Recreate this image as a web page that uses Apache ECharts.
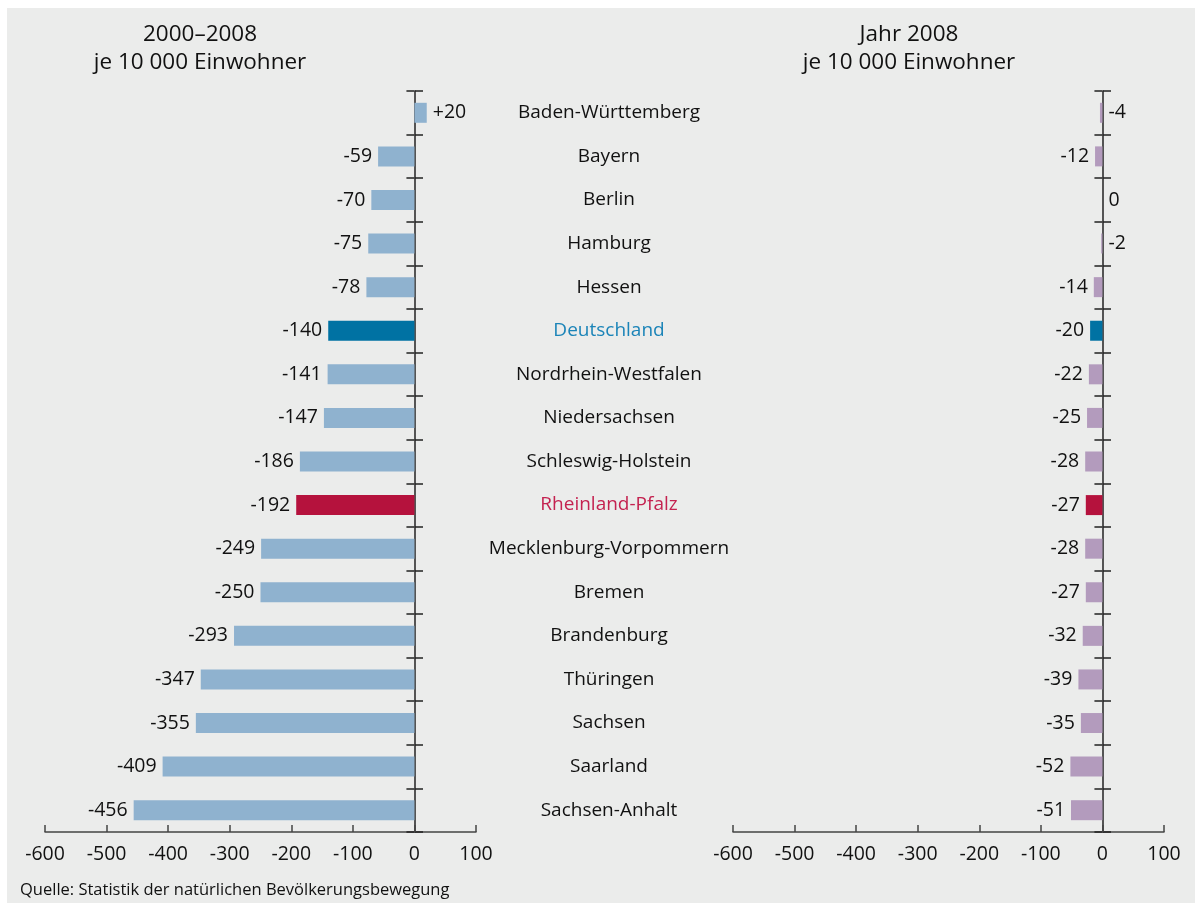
<!DOCTYPE html>
<html>
<head>
    <meta charset="utf-8">
    <title>Geburtenbilanz</title>
    <script src="https://cdn.jsdelivr.net/npm/echarts@6/dist/echarts.min.js"></script>
    <style>
        html, body { margin: 0; padding: 0; background: #fff; }
        #chart { width: 1195px; height: 907px; }
    </style>
</head>
<body>
<div id="chart"></div>
<script>
    // Bundeslaender, von oben nach unten
    var categories = ['Baden-Württemberg', 'Bayern', 'Berlin', 'Hamburg', 'Hessen', 'Deutschland',
        'Nordrhein-Westfalen', 'Niedersachsen', 'Schleswig-Holstein', 'Rheinland-Pfalz',
        'Mecklenburg-Vorpommern', 'Bremen', 'Brandenburg', 'Thüringen', 'Sachsen', 'Saarland', 'Sachsen-Anhalt'];
    // 2000-2008 je 10 000 Einwohner
    var period = [20, -59, -70, -75, -78, -140, -141, -147, -186, -192, -249, -250, -293, -347, -355, -409, -456];
    // Jahr 2008 je 10 000 Einwohner
    var year2008 = [-4, -12, 0, -2, -14, -20, -22, -25, -28, -27, -28, -27, -32, -39, -35, -52, -51];
    var xTicks = [-600, 100, 100]; // min, max, interval

    var font = '"Open Sans", "Noto Sans", sans-serif';
    var special = { 'Deutschland': '#0072a3', 'Rheinland-Pfalz': '#b5123d' };
    var specialText = { 'Deutschland': '#1b84b8', 'Rheinland-Pfalz': '#c42250' };

    function barData(vals, base) {
        return vals.map(function (v, i) {
            var name = categories[i];
            return {
                value: v,
                itemStyle: { color: special[name] || base },
                label: { position: (v >= 0 || Math.abs(v) < 5) ? 'right' : 'left' }
            };
        });
    }

    function xAxis(idx, visible) {
        return {
            type: 'value', gridIndex: idx, show: visible,
            min: xTicks[0], max: xTicks[1], interval: xTicks[2],
            axisLine: { show: true, onZero: false, lineStyle: { color: '#444', width: 1.5 } },
            axisTick: { show: true, inside: true, length: 7, lineStyle: { color: '#444', width: 1.5 } },
            axisLabel: { color: '#111', fontSize: 19.5, fontFamily: font, margin: 12 },
            splitLine: { show: false }
        };
    }

    // main axis at zero, ticks pointing left
    function yAxis(idx) {
        return {
            type: 'category', gridIndex: idx, inverse: true, data: categories,
            axisLine: { show: true, onZero: true, lineStyle: { color: '#222', width: 1.5 } },
            axisTick: { show: true, length: 8, lineStyle: { color: '#222', width: 1.5 } },
            axisLabel: { show: false }
        };
    }

    // helper axis sitting on the zero line, ticks pointing right
    function tickAxis(idx, labels) {
        return {
            type: 'category', gridIndex: idx, inverse: true,
            data: categories.map(function (c) {
                return { value: c, textStyle: { color: specialText[c] || '#111', align: 'center' } };
            }),
            axisLine: { show: false, onZero: false },
            axisTick: { show: true, inside: true, length: 8, lineStyle: { color: '#222', width: 1.5 } },
            axisLabel: labels ? { show: true, inside: true, margin: 194, fontSize: 19, fontFamily: font } : { show: false }
        };
    }

    var labelStyle = {
        show: true, distance: 6, color: '#111', fontSize: 19.5, fontFamily: font,
        formatter: function (p) { return p.value > 0 ? '+' + p.value : String(p.value); }
    };

    var titleFont = '22.5px ' + font;

    var option = {
        backgroundColor: '#fff',
        animation: false,
        textStyle: { fontFamily: font },
        graphic: [
            { type: 'rect', z: -100, shape: { x: 7, y: 8, width: 1188, height: 895 }, style: { fill: '#ebeceb' } },
            { type: 'text', x: 200, y: 35, style: { text: '2000–2008', fill: '#111', font: titleFont, textAlign: 'center', textVerticalAlign: 'middle' } },
            { type: 'text', x: 200, y: 63, style: { text: 'je 10 000 Einwohner', fill: '#111', font: titleFont, textAlign: 'center', textVerticalAlign: 'middle' } },
            { type: 'text', x: 909, y: 35, style: { text: 'Jahr 2008', fill: '#111', font: titleFont, textAlign: 'center', textVerticalAlign: 'middle' } },
            { type: 'text', x: 909, y: 63, style: { text: 'je 10 000 Einwohner', fill: '#111', font: titleFont, textAlign: 'center', textVerticalAlign: 'middle' } },
            { type: 'text', x: 20, y: 890, style: { text: 'Quelle: Statistik der natürlichen Bevölkerungsbewegung', fill: '#111', font: '16.5px ' + font, textAlign: 'left', textVerticalAlign: 'middle' } }
        ],
        grid: [
            { left: 45, top: 91, width: 431, height: 741 },
            { left: 733, top: 91, width: 431, height: 741 },
            { left: 415, top: 91, width: 61, height: 741 },
            { left: 1103, top: 91, width: 61, height: 741 }
        ],
        xAxis: [xAxis(0, true), xAxis(1, true), xAxis(2, false), xAxis(3, false)],
        yAxis: [yAxis(0), yAxis(1), tickAxis(2, true), tickAxis(3, false)],
        series: [
            {
                type: 'bar', xAxisIndex: 0, yAxisIndex: 0, barWidth: 20, z: 1,
                data: barData(period, '#8fb2cf'), label: labelStyle
            },
            {
                type: 'bar', xAxisIndex: 1, yAxisIndex: 1, barWidth: 20, z: 1,
                data: barData(year2008, '#b39bbd'), label: labelStyle
            }
        ]
    };

    var myChart = echarts.init(document.getElementById('chart'));
    myChart.setOption(option);
</script>
</body>
</html>
